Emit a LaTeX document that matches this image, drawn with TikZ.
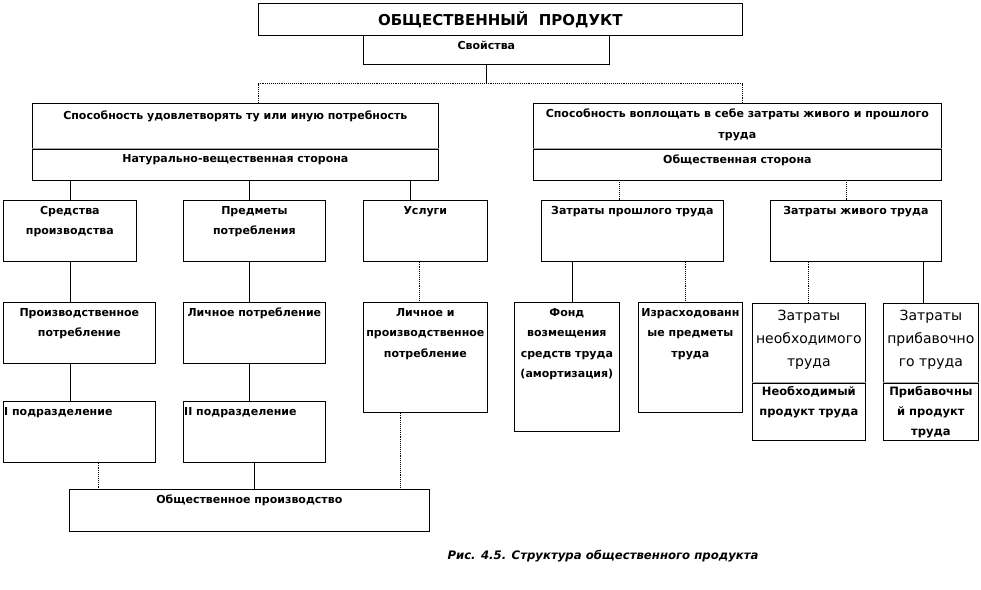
\documentclass[tikz,border=0pt]{standalone}
\usepackage{fontspec}
\setmainfont{DejaVu Sans}
\usetikzlibrary{positioning, calc}

\tikzset{
  box/.style={draw, line width=0.7pt, anchor=north west, inner sep=0pt},
  txt/.style={font=\bfseries\fontsize{11}{20.5}\selectfont, align=center, anchor=north, inner sep=1pt, yshift=-5pt},
  big/.style={font=\fontsize{14}{23}\selectfont, align=center, anchor=north, inner sep=1pt, yshift=-6pt},
  bigb/.style={font=\bfseries\fontsize{11.5}{20}\selectfont, align=center, anchor=north, inner sep=1pt, yshift=-2pt},
  ln/.style={line width=0.7pt},
  dln/.style={line width=0.9pt, densely dotted},
  divln/.style={line width=1.2pt, gray!70},
}

\begin{document}
\begin{tikzpicture}[x=1pt, y=-1pt]
\useasboundingbox (0,0) rectangle (981,589);

% Top
\node[box, minimum width=484pt, minimum height=32pt, font=\bfseries\fontsize{15}{18}\selectfont] (title) at (258,3) {ОБЩЕСТВЕННЫЙ\ \ ПРОДУКТ};
\node[box, minimum width=246pt, minimum height=29pt, label={[txt]north:{Свойства}}] (prop) at (363,35) {};
\coordinate (fork) at ([yshift=-19pt]prop.south);

% Two sides
\node[box, minimum width=406pt, minimum height=45pt,
  label={[txt, yshift=-2pt]north:{Способность удовлетворять ту или иную потребность}}] (cap1) at (32,103) {};
\node[box, minimum width=406pt, minimum height=31pt, anchor=north, below=0pt of cap1,
  label={[txt]north:{Натурально-вещественная сторона}}] (nat) {};
\node[box, minimum width=408pt, minimum height=45pt,
  label={[txt]north:{Способность воплощать в себе затраты живого и прошлого\\труда}}] (cap2) at (533,103) {};
\node[box, minimum width=408pt, minimum height=31pt, anchor=north, below=0pt of cap2,
  label={[txt]north:{Общественная сторона}}] (obsh) {};
\draw[divln] (cap1.south west) -- (cap1.south east);
\draw[divln] (cap2.south west) -- (cap2.south east);

% Level 2
\node[box, minimum width=133pt, minimum height=61pt, label={[txt]north:{Средства\\производства}}] (sredstva) at (3,200) {};
\node[box, minimum width=142pt, minimum height=61pt, label={[txt]north:{Предметы\\потребления}}] (predmety) at (183,200) {};
\node[box, minimum width=124pt, minimum height=61pt, label={[txt]north:{Услуги}}] (uslugi) at (363,200) {};
\node[box, minimum width=182pt, minimum height=61pt, label={[txt]north:{Затраты прошлого труда}}] (zprosh) at (541,200) {};
\node[box, minimum width=171pt, minimum height=61pt, label={[txt]north:{Затраты живого труда}}] (zzhiv) at (770,200) {};

% Level 3
\node[box, minimum width=152pt, minimum height=61pt, label={[txt]north:{Производственное\\потребление}}] (proizvp) at (3,302) {};
\node[box, minimum width=142pt, minimum height=61pt, label={[txt]north:{Личное потребление}}] (lichp) at (183,302) {};
\node[box, minimum width=124pt, minimum height=110pt, label={[txt]north:{Личное и\\производственное\\потребление}}] (lichproizv) at (363,302) {};
\node[box, minimum width=105pt, minimum height=129pt, label={[txt]north:{Фонд\\возмещения\\средств труда\\(амортизация)}}] (fond) at (514,302) {};
\node[box, minimum width=104pt, minimum height=110pt, label={[txt]north:{Израсходованн\\ые предметы\\труда}}] (izrash) at (638,302) {};
\node[box, minimum width=113pt, minimum height=79pt, label={[big]north:{Затраты\\необходимого\\труда}}] (zneobh) at (752,303) {};
\node[box, minimum width=113pt, minimum height=57pt, anchor=north, below=0pt of zneobh,
  label={[bigb]north:{Необходимый\\продукт труда}}] (neobhprod) {};
\node[box, minimum width=95pt, minimum height=79pt, label={[big]north:{Затраты\\прибавочно\\го труда}}] (zprib) at (883,303) {};
\node[box, minimum width=95pt, minimum height=57pt, anchor=north, below=0pt of zprib,
  label={[bigb]north:{Прибавочны\\й продукт\\труда}}] (pribprod) {};
\draw[divln] (zneobh.south west) -- (zneobh.south east);
\draw[divln] (zprib.south west) -- (zprib.south east);

% Level 4
\node[box, minimum width=152pt, minimum height=61pt, label={[txt, anchor=north west, align=left]north west:{I подразделение}}] (podr1) at (3,401) {};
\node[box, minimum width=142pt, minimum height=61pt, label={[txt, anchor=north west, align=left]north west:{II подразделение}}] (podr2) at (183,401) {};
\node[box, minimum width=360pt, minimum height=42pt, label={[txt]north:{Общественное производство}}] (obproizv) at (69,489) {};

% Caption
\node[font=\bfseries\itshape\fontsize{11.7}{13}\selectfont] (caption) at (603,556) {Рис. 4.5. Структура общественного продукта};

% Connectors: top
\draw[ln] (prop.south) -- (fork);
\draw[dln] (cap1.north -| title.west) |- (fork) -| (cap2.north -| title.east);

% left branch
\draw[ln] (nat.south -| sredstva.north) -- (sredstva.north);
\draw[ln] ($(nat.south -| predmety.north)+(-5,0)$) -- ($(predmety.north)+(-5,0)$);
\draw[ln] ($(nat.south -| uslugi.north)+(-15,0)$) -- ($(uslugi.north)+(-15,0)$);
% right branch
\draw[dln] ($(obsh.south -| zprosh.north)+(-13,0)$) -- ($(zprosh.north)+(-13,0)$);
\draw[dln] ($(obsh.south -| zzhiv.north)+(-9,0)$) -- ($(zzhiv.north)+(-9,0)$);

% level 3
\draw[ln] (sredstva.south) -- (sredstva.south |- proizvp.north);
\draw[ln] ($(predmety.south)+(-5,0)$) -- ($(predmety.south |- lichp.north)+(-5,0)$);
\draw[dln] ($(uslugi.south)+(-6,0)$) -- ($(uslugi.south |- lichproizv.north)+(-6,0)$);
\draw[ln] ($(zprosh.south -| fond.north)+(5,0)$) -- ($(fond.north)+(5,0)$);
\draw[dln] ($(zprosh.south -| izrash.north)+(-5,0)$) -- ($(izrash.north)+(-5,0)$);
\draw[dln] (zzhiv.south -| zneobh.north) -- (zneobh.north);
\draw[ln] ($(zzhiv.south -| zprib.north)+(-8,0)$) -- ($(zprib.north)+(-8,0)$);

% level 4
\draw[ln] (proizvp.south -| sredstva.south) -- (podr1.north -| sredstva.south);
\draw[ln] ($(lichp.south)+(-5,0)$) -- ($(lichp.south |- podr2.north)+(-5,0)$);

% to bottom
\draw[dln] ($(podr1.south)+(19,0)$) -- ($(podr1.south |- obproizv.north)+(19,0)$);
\draw[ln] (podr2.south) -- (podr2.south |- obproizv.north);
\draw[dln] ($(lichproizv.south)+(-25,0)$) -- ($(lichproizv.south |- obproizv.north)+(-25,0)$);
\end{tikzpicture}
\end{document}
